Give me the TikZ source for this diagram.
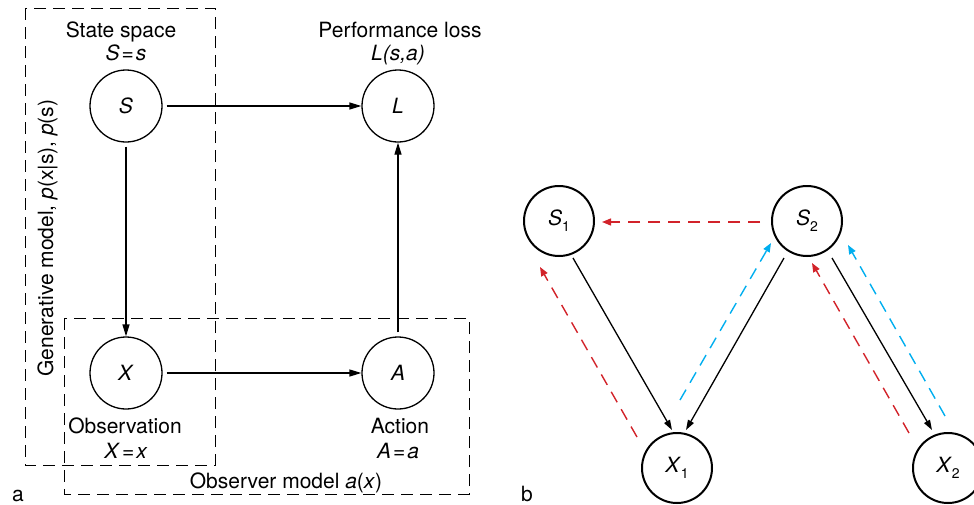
\documentclass[tikz,border=0pt]{standalone}
\usepackage{fontspec}
\setmainfont{TeX Gyre Heros}
\usetikzlibrary{arrows.meta}
\definecolor{myred}{RGB}{210,35,42}
\definecolor{myblue}{RGB}{0,174,239}
\newcommand{\subnum}[1]{\raisebox{-6pt}{\fontsize{14}{14}\selectfont #1}}
\begin{document}
\begin{tikzpicture}[x=1pt,y=-1pt,
  font=\fontsize{21}{25}\selectfont,
  vara/.style={circle,draw,line width=1.3pt,minimum size=72pt,inner sep=0pt},
  varb/.style={circle,draw,line width=2pt,minimum size=70pt,inner sep=0pt},
  arra/.style={line width=1.3pt,-{Triangle[length=12pt,width=7pt]},shorten <=4pt},
  arrb/.style={line width=1.3pt,-{Triangle[length=10pt,width=6.5pt]}},
  boxd/.style={line width=0.9pt,dash pattern=on 12pt off 7pt},
  reddash/.style={draw=myred,line width=1.4pt,dash pattern=on 12pt off 8pt,-{Triangle[length=9pt,width=7pt]}},
  bluedash/.style={draw=myblue,line width=1.4pt,dash pattern=on 12pt off 8pt,-{Triangle[length=9pt,width=7pt]}},
  lbl/.style={anchor=base,inner sep=0pt}
]
\useasboundingbox (0,0) rectangle (974,504);

% ---- part a ----
\draw[boxd] (25,8) rectangle (215,465);
\draw[boxd] (64,318) rectangle (469,494);

\node[vara] (S) at (126,106) {\textit{S}};
\node[vara] (L) at (398,106) {\textit{L}};
\node[vara] (X) at (126,373) {\textit{X}};
\node[vara] (A) at (398,373) {\textit{A}};

\draw[arra] (S.east) -- (L.west);
\draw[arra] (S.south) -- (X.north);
\draw[arra] (X.east) -- (A.west);
\draw[arra] (A.north) -- (L.south);

\node[lbl] (tS1) at (121,37) {State space};
\node[lbl] (tS2) at (126,60) {\textit{S}\kern2pt=\kern2pt\textit{s}};
\node[lbl] (tL1) at (400,37) {Performance loss};
\node[lbl] (tL2) at (398,60) {\textit{L(s,a)}};
\node[lbl] (tX1) at (125,433) {Observation};
\node[lbl] (tX2) at (126,458) {\textit{X}\kern2pt=\kern2pt\textit{x}};
\node[lbl] (tA1) at (400,433) {Action};
\node[lbl] (tA2) at (398,458) {\textit{A}\kern2pt=\kern2pt\textit{a}};
\node[lbl] (tO) at (286,488) {Observer model \textit{a}(\textit{x})};
\node[lbl,rotate=90] (tG) at (53,238) {Generative model, \textit{p}(x|s), \textit{p}(s)};
\node[lbl] (la) at (18,501) {a};

% ---- part b ----
\node[varb] (S1) at (559,221) {\textit{S}\subnum{1}};
\node[varb] (S2) at (807,221) {\textit{S}\subnum{2}};
\node[varb] (X1) at (677,468) {\textit{X}\subnum{1}};
\node[varb] (X2) at (948,468) {\textit{X}\subnum{2}};
\node[lbl] (lb) at (527,501) {b};

\draw[arrb] ([shift={(14,37)}]S1.center) -- ([shift={(-5,-38)}]X1.center);
\draw[arrb] ([shift={(-23,37)}]S2.center) -- ([shift={(9,-38)}]X1.center);
\draw[arrb] ([shift={(25,37)}]S2.center) -- ([shift={(-16,-38)}]X2.center);

\draw[reddash] ([shift={(-47,1)}]S2.center) -- ([shift={(43,1)}]S1.center);
\draw[reddash] ([shift={(-40,-31)}]X1.center) -- ([shift={(-19,46)}]S1.center);
\draw[bluedash] ([shift={(3,-68)}]X1.center) -- ([shift={(-36,22)}]S2.center);
\draw[reddash] ([shift={(-39,-35)}]X2.center) -- ([shift={(5,42)}]S2.center);
\draw[bluedash] ([shift={(-3,-52)}]X2.center) -- ([shift={(41,24)}]S2.center);
\end{tikzpicture}
\end{document}
